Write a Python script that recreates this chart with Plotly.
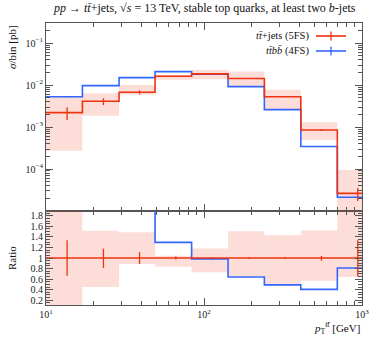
import plotly.graph_objects as go

# ---- data ----
bin_edges = [10, 17, 29, 49, 83.5, 142, 241, 410, 698, 1186]
bin_marks = [13.6, 23.1, 39.1, 66.3, 112.8, 191.5, 325.5, 554, 940]

red_vals = [2.21e-3, 4.13e-3, 6.76e-3, 1.62e-2, 1.85e-2, 1.44e-2, 5.3e-3, 8.5e-4, 2.63e-5]
blue_vals = [5.3e-3, 9.7e-3, 1.51e-2, 2.1e-2, 1.82e-2, 9.2e-3, 2.6e-3, 3.45e-4, 2.13e-5]

# relative stat. errors of the red curve
red_err_hi = [1.335, 1.176, 1.11, 1.03, 1.01, 1.01, 1.015, 1.04, 1.335]
red_err_lo = [0.666, 0.81, 0.887, 0.97, 0.99, 0.99, 0.985, 0.95, 0.655]
blue_err_rel = [0.03, 0.02, 0.015, 0.01, 0.01, 0.01, 0.01, 0.02, 0.05]

# uncertainty band, main panel (absolute)
band_hi = [5.5e-3, 6.4e-3, 1.0e-2, 1.75e-2, 2.3e-2, 2.1e-2, 7.7e-3, 1.3e-3, 9.5e-5]
band_lo = [2.73e-4, 1.87e-3, 5.9e-3, 1.35e-2, 1.38e-2, 9.5e-3, 2.7e-3, 4.9e-4, 5e-6]
# uncertainty band, ratio panel (relative)
rband_hi = [2.5, 1.517, 1.49, 1.044, 1.18, 1.505, 1.43, 1.52, 3.6]
rband_lo = [0.1, 0.452, 0.887, 0.836, 0.73, 0.655, 0.49, 0.57, 0.64]

red_name = "<i>tt̄</i>+jets (5FS)"
blue_name = "<i>tt̄bb̄</i> (4FS)"

RED = "#EE3311"
BLUE = "#3366FF"
FILL = "rgba(238,51,17,0.17)"
FRAME = "#555555"
FONT = "Liberation Serif"

fig = go.Figure()

def add_band(lo, hi, xa, ya):
    for i in range(len(lo)):
        x0, x1 = bin_edges[i], bin_edges[i + 1]
        fig.add_trace(go.Scatter(
            x=[x0, x1, x1, x0, x0], y=[lo[i], lo[i], hi[i], hi[i], lo[i]],
            mode="lines", line=dict(width=0), fill="toself", fillcolor=FILL,
            hoverinfo="skip", showlegend=False, xaxis=xa, yaxis=ya))

def add_step(vals, color, xa, ya):
    fig.add_trace(go.Scatter(
        x=bin_edges, y=list(vals) + [vals[-1]], mode="lines",
        line=dict(color=color, width=1.6, shape="hv"),
        showlegend=False, hoverinfo="skip", xaxis=xa, yaxis=ya))

def add_err(vals, up, dn, color, xa, ya):
    fig.add_trace(go.Scatter(
        x=bin_marks, y=vals, mode="markers",
        marker=dict(size=1, color=color),
        error_y=dict(type="data", symmetric=False, array=up, arrayminus=dn,
                     color=color, thickness=1.3, width=0),
        showlegend=False, hoverinfo="skip", xaxis=xa, yaxis=ya))

# main panel
add_band(band_lo, band_hi, "x", "y")
add_step(blue_vals, BLUE, "x", "y")
add_step(red_vals, RED, "x", "y")
add_err(blue_vals, [v * e for v, e in zip(blue_vals, blue_err_rel)],
        [v * e for v, e in zip(blue_vals, blue_err_rel)], BLUE, "x", "y")
add_err(red_vals, [v * (h - 1) for v, h in zip(red_vals, red_err_hi)],
        [v * (1 - l) for v, l in zip(red_vals, red_err_lo)], RED, "x", "y")

# ratio panel
ratio_blue = [b / r for b, r in zip(blue_vals, red_vals)]
ones = [1.0] * len(red_vals)
add_band(rband_lo, rband_hi, "x2", "y2")
add_step(ratio_blue, BLUE, "x2", "y2")
add_step(ones, RED, "x2", "y2")
add_err(ones, [h - 1 for h in red_err_hi], [1 - l for l in red_err_lo], RED, "x2", "y2")

minor_x = [k * 10 for k in range(2, 10)] + [k * 100 for k in range(2, 10)]
minor_y = [k * 10.0 ** e for e in range(-5, 0) for k in range(2, 10)]

xcommon = dict(type="log", range=[1, 3], showline=True, linecolor=FRAME, linewidth=1,
               mirror="allticks", ticks="inside", ticklen=7, tickcolor=FRAME,
               tickvals=[10, 100, 1000], showgrid=False, zeroline=False,
               minor=dict(tickvals=minor_x, ticks="inside", ticklen=4, tickcolor=FRAME))
fig.update_layout(
    xaxis=dict(**xcommon, domain=[0, 1], anchor="y", showticklabels=False),
    xaxis2=dict(**xcommon, domain=[0, 1], anchor="y2", showticklabels=True,
                ticklabeloverflow="allow",
                ticktext=["10<sup>1</sup>", "10<sup>2</sup>", "10<sup>3</sup>"],
                tickfont=dict(family=FONT, size=10, color="#222")),
    yaxis=dict(type="log", range=[-5, -0.52], domain=[0.3333, 1], anchor="x",
               showline=True, linecolor=FRAME, linewidth=1, mirror="allticks",
               ticks="inside", ticklen=7, tickcolor=FRAME, showgrid=False, zeroline=False,
               tickvals=[1e-4, 1e-3, 1e-2, 1e-1],
               ticktext=["10<sup>−4</sup>", "10<sup>−3</sup>", "10<sup>−2</sup>", "10<sup>−1</sup>"],
               tickfont=dict(family=FONT, size=10, color="#222"),
               minor=dict(tickvals=minor_y, ticks="inside", ticklen=4, tickcolor=FRAME)),
    yaxis2=dict(range=[0.11, 1.89], domain=[0, 0.3333], anchor="x2",
                showline=True, linecolor=FRAME, linewidth=1, mirror="allticks",
                ticks="inside", ticklen=7, tickcolor=FRAME, showgrid=False, zeroline=False,
                tickvals=[0.2, 0.4, 0.6, 0.8, 1.0, 1.2, 1.4, 1.6, 1.8],
                ticktext=["0.2", "0.4", "0.6", "0.8", "1", "1.2", "1.4", "1.6", "1.8"],
                tickfont=dict(family=FONT, size=10, color="#222"),
                minor=dict(dtick=0.05, tick0=0, ticks="inside", ticklen=4, tickcolor=FRAME)),
    width=374, height=337,
    margin=dict(l=46, r=12, t=23, b=32, autoexpand=False),
    paper_bgcolor="white", plot_bgcolor="white",
    showlegend=False,
    font=dict(family=FONT, size=10, color="#222"),
)

# titles
fig.add_annotation(text="<i>pp</i> → <i>tt̄</i>+jets, √<i>s</i> = 13 TeV, stable top quarks, at least two <i>b</i>-jets",
                   xref="paper", yref="paper", x=0.5, y=1, yshift=15, xanchor="center",
                   yanchor="middle", showarrow=False, font=dict(family=FONT, size=12, color="#111"))
fig.add_annotation(text="<i>σ</i>/bin [pb]", xref="paper", yref="paper", x=0, xshift=-34,
                   y=1, textangle=-90, xanchor="center", yanchor="top", showarrow=False,
                   font=dict(family=FONT, size=11, color="#111"))
fig.add_annotation(text="Ratio", xref="paper", y=1, yref="y2", x=0, xshift=-34,
                   textangle=-90, xanchor="center", yanchor="middle", showarrow=False,
                   font=dict(family=FONT, size=11, color="#111"))
fig.add_annotation(text="<i>p</i><sub>T</sub><sup><i>tt̄</i></sup> [GeV]", xref="paper", yref="paper",
                   x=1, y=0, yshift=-23, xanchor="right", yanchor="middle", showarrow=False,
                   font=dict(family=FONT, size=11, color="#111"))

# legend (drawn by hand: text left of the symbol, as in the reference)
for k, (name, col) in enumerate([(red_name, RED), (blue_name, BLUE)]):
    ypix = 36 + 15 * k
    yp = 1 - (ypix - 23) / 282
    fig.add_annotation(text=name, xref="paper", yref="paper", x=(311 - 46) / 316, y=yp,
                       xanchor="right", yanchor="middle", showarrow=False,
                       font=dict(family=FONT, size=10.5, color="#111"))
    fig.add_shape(type="line", xref="paper", yref="paper",
                  x0=(316 - 46) / 316, x1=(346 - 46) / 316, y0=yp, y1=yp,
                  line=dict(color=col, width=1.6))
    fig.add_shape(type="line", xref="paper", yref="paper",
                  x0=(331 - 46) / 316, x1=(331 - 46) / 316,
                  y0=yp - 4.5 / 282, y1=yp + 4.5 / 282, line=dict(color=col, width=1.3))

fig.write_html("out.html", config={"displayModeBar": False},
               post_script="document.body.style.margin='0';document.body.style.overflow='hidden';")
